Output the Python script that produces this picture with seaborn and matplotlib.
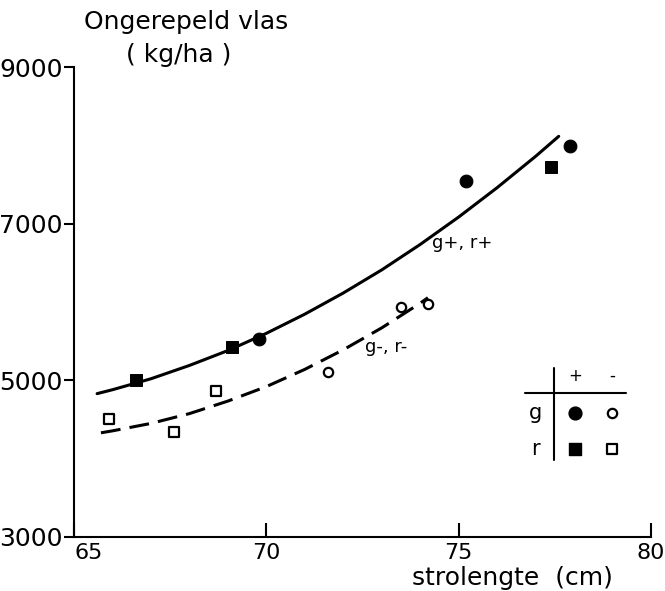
import pandas as pd
import seaborn as sns
import matplotlib.pyplot as plt
from matplotlib.transforms import ScaledTranslation

# measured points (strolengte in cm, ongerepeld vlas in kg/ha)
g_plus_x = [69.8, 75.2, 77.9]
g_plus_y = [5530, 7540, 7990]
r_plus_x = [66.6, 69.1, 77.4]
r_plus_y = [5010, 5430, 7720]
g_min_x = [71.6, 73.5, 74.2]
g_min_y = [5110, 5930, 5980]
r_min_x = [65.9, 67.6, 68.7]
r_min_y = [4500, 4340, 4870]

# fitted curves
curve_plus_x = [65.6, 66, 67, 68, 69, 70, 71, 72, 73, 74, 75, 76, 77, 77.6]
curve_plus_y = [4830, 4880, 5020, 5190, 5380, 5600, 5845, 6115, 6410, 6735, 7085, 7460, 7860, 8115]
curve_min_x = [65.7, 66, 67, 68, 69, 70, 71, 72, 73, 74, 74.2]
curve_min_y = [4330, 4355, 4450, 4575, 4735, 4920, 5140, 5390, 5670, 5985, 6055]

x_ticks = [65, 70, 75, 80]
y_ticks = [3000, 5000, 7000, 9000]

sns.set_style("ticks")
plt.rcParams["font.family"] = ["DejaVu Sans"]
for key in ["text.color", "axes.labelcolor", "xtick.color", "ytick.color", "axes.edgecolor"]:
    plt.rcParams[key] = "black"

fig = plt.figure(figsize=(6.65, 5.91), dpi=100)
ax = fig.add_axes([0.1113, 0.0914, 0.8677, 0.7952])

sns.lineplot(x=curve_plus_x, y=curve_plus_y, ax=ax, color="black", lw=2.2, sort=False)
sns.lineplot(x=curve_min_x, y=curve_min_y, ax=ax, color="black", lw=2.2, sort=False,
             linestyle=(0, (6.5, 3)))

sns.scatterplot(x=g_plus_x, y=g_plus_y, ax=ax, marker="o", s=85, color="black", edgecolor="black", zorder=3)
sns.scatterplot(x=r_plus_x, y=r_plus_y, ax=ax, marker="s", s=75, color="black", edgecolor="black", zorder=3)
sns.scatterplot(x=g_min_x, y=g_min_y, ax=ax, marker="o", s=45, facecolor="white", edgecolor="black",
                linewidth=1.6, zorder=3)
sns.scatterplot(x=r_min_x, y=r_min_y, ax=ax, marker="s", s=50, facecolor="white", edgecolor="black",
                linewidth=1.6, zorder=3)

ax.text(74.3, 6755, "g+, r+", fontsize=13, va="center")
ax.text(72.56, 5427, "g-, r-", fontsize=13, va="center")

# symbol key in the lower right
tr = ax.transAxes
ax.plot([0.832, 0.832], [0.164, 0.360], color="black", lw=1.5, transform=tr)
ax.plot([0.782, 0.957], [0.306, 0.306], color="black", lw=1.5, transform=tr)
ax.text(0.868, 0.343, "+", transform=tr, fontsize=12, ha="center", va="center")
ax.text(0.932, 0.343, "-", transform=tr, fontsize=12, ha="center", va="center")
ax.text(0.799, 0.264, "g", transform=tr, fontsize=15, ha="center", va="center")
ax.text(0.799, 0.187, "r", transform=tr, fontsize=15, ha="center", va="center")
ax.scatter([0.868], [0.264], marker="o", s=85, color="black", transform=tr)
ax.scatter([0.868], [0.187], marker="s", s=75, color="black", transform=tr)
ax.scatter([0.932], [0.264], marker="o", s=45, facecolor="white", edgecolor="black", lw=1.6, transform=tr)
ax.scatter([0.932], [0.187], marker="s", s=50, facecolor="white", edgecolor="black", lw=1.6, transform=tr)

ax.set_xlim(65, 80)
ax.set_ylim(3000, 9000)
ax.set_xticks(x_ticks)
ax.set_yticks(y_ticks)
ax.set_xticklabels([str(v) for v in x_ticks], fontsize=16)
ax.set_yticklabels([str(v) for v in y_ticks], fontsize=18)
ax.get_xticklabels()[0].set_horizontalalignment("left")
last = ax.get_xticklabels()[-1]
last.set_transform(last.get_transform() + ScaledTranslation(-3 / 72, 0, fig.dpi_scale_trans))
ax.tick_params(axis="x", direction="in", length=10, width=1.5, pad=4)
ax.tick_params(axis="y", direction="out", length=7, width=1.5, pad=1)
sns.despine(ax=ax)
for side in ["left", "bottom"]:
    ax.spines[side].set_linewidth(1.5)

fig.text(0.28, 0.962, "Ongerepeld vlas", fontsize=18, ha="center", va="center")
fig.text(0.268, 0.907, "( kg/ha )", fontsize=18, ha="center", va="center")
fig.text(0.77, 0.022, "strolengte  (cm)", fontsize=18, ha="center", va="center")

fig.savefig("out.png", dpi=100)
